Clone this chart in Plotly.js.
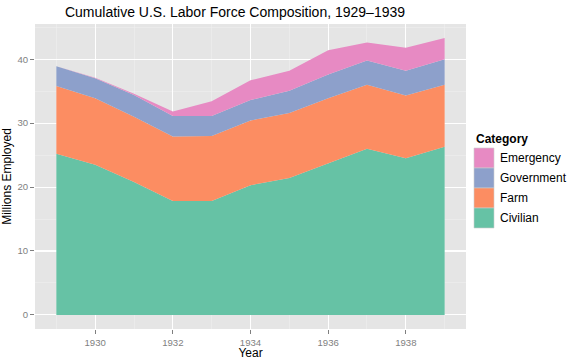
<!DOCTYPE html>
<html>
<head>
<meta charset="utf-8">
<script src="https://cdn.plot.ly/plotly-3.0.1.min.js"></script>
<style>html,body{margin:0;padding:0;background:#fff;}#chart{width:576px;height:360px;}</style>
</head>
<body>
<div id="chart"></div>
<script>
var years = [1929, 1930, 1931, 1932, 1933, 1934, 1935, 1936, 1937, 1938, 1939];
var civilian   = [25.2, 23.5, 20.8, 17.8, 17.8, 20.3, 21.4, 23.75, 26.0, 24.5, 26.3];
var farm       = [10.6, 10.4, 10.2, 10.1, 10.2, 10.1, 10.2, 10.15, 10.0, 9.8, 9.7];
var government = [3.1, 3.1, 3.4, 3.2, 3.1, 3.2, 3.45, 3.7, 3.8, 3.9, 4.0];
var emergency  = [0.0, 0.1, 0.2, 0.7, 2.3, 3.1, 3.15, 3.8, 2.8, 3.6, 3.3];

var categories = ['Civilian', 'Farm', 'Government', 'Emergency'];
var seriesValues = [civilian, farm, government, emergency];
var colors = ['#66C2A5', '#FC8D62', '#8DA0CB', '#E78AC3'];
var xTicks = [1930, 1932, 1934, 1936, 1938];
var yTicks = [0, 10, 20, 30, 40];

var font = 'Liberation Sans, Arial, Helvetica, sans-serif';

var traces = categories.map(function (name, i) {
  return {
    x: years,
    y: seriesValues[i],
    name: name,
    type: 'scatter',
    mode: 'lines',
    stackgroup: 'one',
    line: {width: 0, color: colors[i]},
    fillcolor: colors[i],
    hoverinfo: 'x+y+name'
  };
});

// Manual ggplot-style legend (top-most category first)
var shapes = [];
var annotations = [];
var legX0 = 474, legW = 20, legH = 20, legY0 = 148;
annotations.push({
  xref: 'paper', yref: 'paper', x: (legX0 - 35) / (576 - 35 - 110), y: 1 - (139 - 24) / (360 - 24 - 31),
  text: '<b>Category</b>', showarrow: false, xanchor: 'left', yanchor: 'middle',
  font: {family: font, size: 12, color: '#000'}
});
var order = categories.slice().reverse();
order.forEach(function (name, k) {
  var idx = categories.indexOf(name);
  var top = legY0 + k * legH;
  shapes.push({
    type: 'rect', xref: 'paper', yref: 'paper', layer: 'above',
    x0: (legX0 - 35) / 431, x1: (legX0 + legW - 35) / 431,
    y0: 1 - (top + legH - 24) / 305, y1: 1 - (top - 24) / 305,
    fillcolor: colors[idx], line: {width: 0.6, color: '#CCCCCC'}
  });
  annotations.push({
    xref: 'paper', yref: 'paper', x: (legX0 + legW + 4 - 35) / 431, y: 1 - (top + legH / 2 - 24) / 305,
    text: name, showarrow: false, xanchor: 'left', yanchor: 'middle',
    font: {family: font, size: 12, color: '#000'}
  });
});

var layout = {
  width: 576, height: 360,
  margin: {l: 35, r: 110, t: 24, b: 31, pad: 0},
  paper_bgcolor: '#FFFFFF',
  plot_bgcolor: '#E5E5E5',
  showlegend: false,
  font: {family: font, color: '#000'},
  title: {
    text: 'Cumulative U.S. Labor Force Composition, 1929\u20131939',
    font: {family: font, size: 14, color: '#000'},
    x: 235 / 576, xref: 'container', xanchor: 'center',
    y: 1 - 12 / 360, yref: 'container', yanchor: 'middle'
  },
  xaxis: {
    range: [1928.45, 1939.55],
    tickvals: xTicks, ticktext: xTicks.map(String),
    showgrid: true, gridcolor: '#FFFFFF', gridwidth: 1.1,
    minor: {tickvals: [1929, 1931, 1933, 1935, 1937, 1939], showgrid: true, gridcolor: '#F2F2F2', gridwidth: 0.5, ticks: ''},
    zeroline: false, showline: false,
    ticks: 'outside', ticklen: 4, tickcolor: '#7F7F7F', tickwidth: 1,
    tickfont: {family: font, size: 9.6, color: '#7F7F7F'},
    title: {text: 'Year', font: {family: font, size: 12, color: '#000'}, standoff: 4}
  },
  yaxis: {
    range: [-2.2, 45.5],
    tickvals: yTicks, ticktext: yTicks.map(String),
    showgrid: true, gridcolor: '#FFFFFF', gridwidth: 1.1,
    minor: {tickvals: [5, 15, 25, 35, 45], showgrid: true, gridcolor: '#F2F2F2', gridwidth: 0.5, ticks: ''},
    zeroline: false, showline: false,
    ticks: 'outside', ticklen: 4, tickcolor: '#7F7F7F', tickwidth: 1,
    tickfont: {family: font, size: 9.6, color: '#7F7F7F'},
    title: {text: 'Millions Employed', font: {family: font, size: 12, color: '#000'}, standoff: 4}
  },
  shapes: shapes,
  annotations: annotations
};

Plotly.newPlot('chart', traces, layout, {displayModeBar: false, staticPlot: true});
</script>
</body>
</html>
